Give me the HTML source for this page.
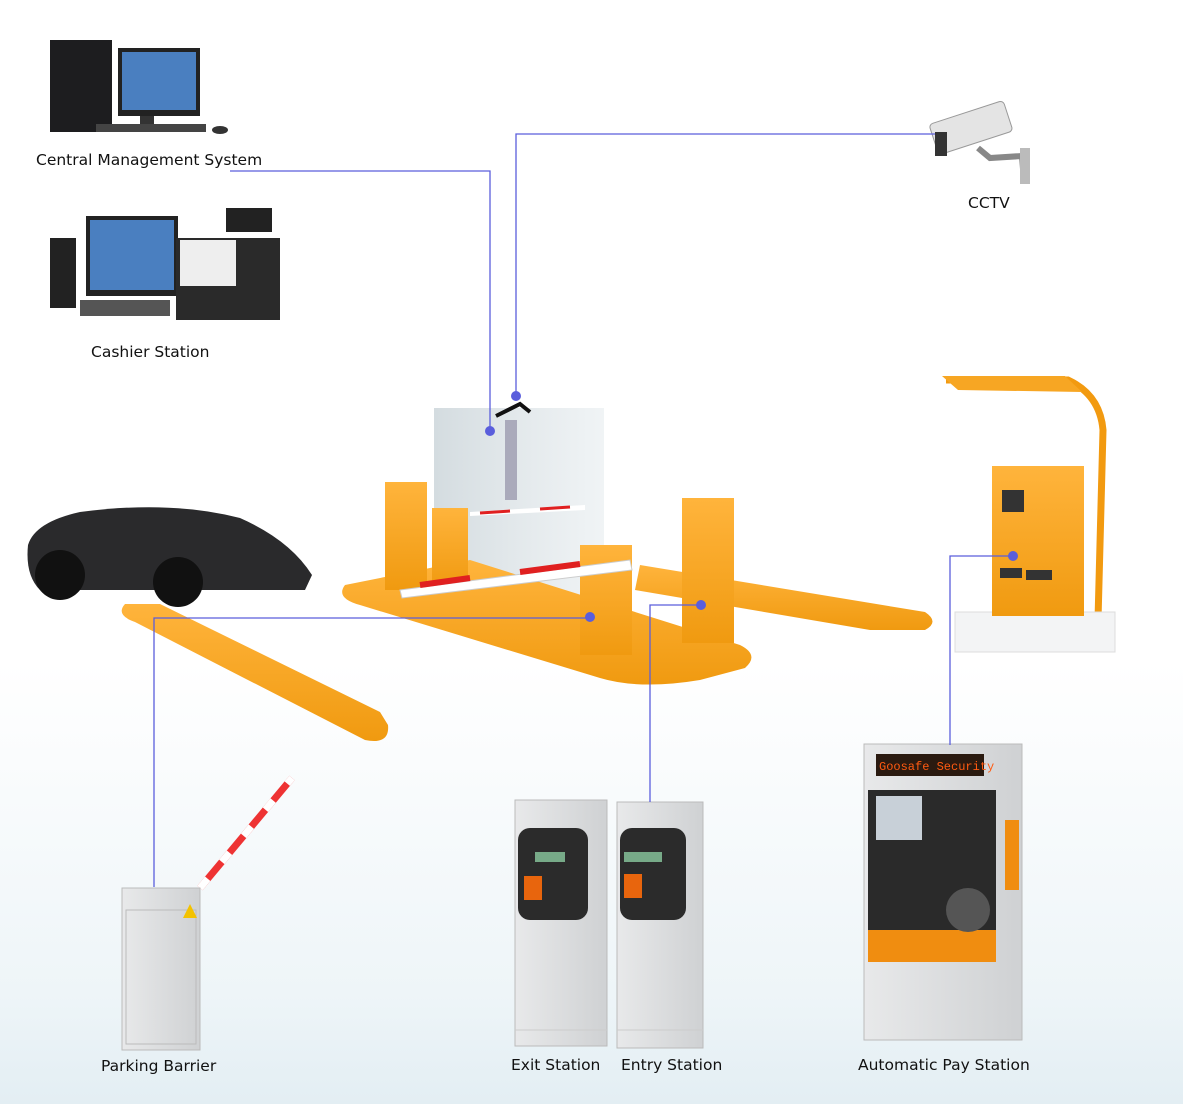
<!DOCTYPE html>
<html><head><meta charset="utf-8"><style>
html,body{margin:0;padding:0}
body{width:1183px;height:1104px;overflow:hidden;background:linear-gradient(#fff 0%,#fff 60%,#eef5f8 90%,#e3eef3 100%);font-family:"Liberation Sans",sans-serif}
svg{position:absolute;left:0;top:0}
text{font-family:"DejaVu Sans","Liberation Sans",sans-serif;font-size:15.5px;fill:#111;font-weight:500}
</style></head><body>
<svg width="1183" height="1104" viewBox="0 0 1183 1104">
<defs>
<linearGradient id="or" x1="0" y1="0" x2="0" y2="1"><stop offset="0" stop-color="#ffb43c"/><stop offset="1" stop-color="#f09a10"/></linearGradient>
<linearGradient id="gl" x1="0" y1="0" x2="1" y2="0"><stop offset="0" stop-color="#c9d3d8" stop-opacity=".8"/><stop offset="1" stop-color="#e6ecef" stop-opacity=".6"/></linearGradient>
<linearGradient id="gr" x1="0" y1="0" x2="1" y2="0"><stop offset="0" stop-color="#e8e9ea"/><stop offset="1" stop-color="#cfd1d3"/></linearGradient>
</defs>
<!-- CMS computer -->
<rect x="50" y="40" width="62" height="92" fill="#1d1d1f"/>
<rect x="118" y="48" width="82" height="68" fill="#222"/>
<rect x="122" y="52" width="74" height="58" fill="#4a7fc0"/>
<rect x="140" y="116" width="14" height="10" fill="#333"/>
<rect x="96" y="124" width="110" height="8" fill="#444"/>
<ellipse cx="220" cy="130" rx="8" ry="4" fill="#333"/>
<text x="36" y="165">Central Management System</text>
<!-- Cashier -->
<rect x="50" y="238" width="26" height="70" fill="#222"/>
<rect x="86" y="216" width="92" height="80" fill="#222"/>
<rect x="90" y="220" width="84" height="70" fill="#4a7fc0"/>
<rect x="176" y="238" width="104" height="82" fill="#2a2a2a"/>
<rect x="180" y="240" width="56" height="46" fill="#eee"/>
<rect x="226" y="208" width="46" height="24" fill="#222"/>
<rect x="80" y="300" width="90" height="16" fill="#555"/>
<text x="91" y="357">Cashier Station</text>
<!-- CCTV -->
<rect x="932" y="112" width="78" height="32" rx="4" fill="#e4e4e4" stroke="#999" transform="rotate(-18 970 128)"/>
<rect x="935" y="132" width="12" height="24" fill="#333"/>
<path d="M978 148 L990 158 L1022 156 L1024 182" stroke="#888" stroke-width="6" fill="none"/>
<rect x="1020" y="148" width="10" height="36" fill="#bbb"/>
<text x="968" y="208">CCTV</text>
<!-- booth glass -->
<rect x="434" y="408" width="170" height="190" fill="url(#gl)"/>
<rect x="505" y="420" width="12" height="80" fill="#aab"/>
<!-- orange platform -->
<path d="M345 585 Q335 598 360 605 L600 678 Q640 690 700 680 L745 668 Q760 655 740 645 L470 560 Z" fill="url(#or)"/>
<path d="M640 565 L925 612 Q940 622 925 630 L870 630 L635 590 Z" fill="url(#or)"/>
<path d="M125 604 Q115 615 135 622 L365 740 Q390 745 388 725 L380 712 L160 604 Z" fill="url(#or)"/>
<!-- posts -->
<rect x="385" y="482" width="42" height="108" fill="url(#or)"/>
<rect x="432" y="508" width="36" height="80" fill="url(#or)"/>
<rect x="580" y="545" width="52" height="110" fill="url(#or)"/>
<rect x="682" y="498" width="52" height="145" fill="url(#or)"/>
<!-- barrier arms -->
<path d="M400 590 L630 560 L632 570 L402 598 Z" fill="#fff" stroke="#ccc"/>
<path d="M420 585 L470 578 M520 572 L580 564" stroke="#e02020" stroke-width="6"/>
<path d="M470 512 L585 505 L585 510 L470 516 Z" fill="#fff"/>
<path d="M480 513 L510 511 M540 509 L570 507" stroke="#e02020" stroke-width="3"/>
<!-- car -->
<path d="M28 545 Q35 522 80 512 Q170 500 240 518 Q290 540 312 575 L305 590 L40 590 Q25 575 28 545 Z" fill="#2a2a2c"/>
<circle cx="60" cy="575" r="25" fill="#111"/><circle cx="178" cy="582" r="25" fill="#111"/>
<!-- pay station shelter -->
<path d="M946 380 L1068 380 Q1100 395 1103 430 L1098 620" stroke="#f29a10" stroke-width="7" fill="none"/>
<path d="M942 376 L1065 376 L1082 392 L958 390 Z" fill="#f7a623"/>
<rect x="955" y="612" width="160" height="40" fill="#f3f4f5" stroke="#ddd"/>
<rect x="992" y="466" width="92" height="150" fill="url(#or)"/>
<rect x="1002" y="490" width="22" height="22" fill="#333"/>
<rect x="1026" y="570" width="26" height="10" fill="#333"/><rect x="1000" y="568" width="22" height="10" fill="#333"/>
<!-- parking barrier -->
<line x1="200" y1="888" x2="292" y2="778" stroke="#e33" stroke-width="7"/>
<line x1="200" y1="888" x2="292" y2="778" stroke="#fff" stroke-width="7" stroke-dasharray="12 22"/>
<rect x="122" y="888" width="78" height="162" fill="url(#gr)" stroke="#bbb"/>
<rect x="126" y="910" width="70" height="134" fill="none" stroke="#bbb"/>
<path d="M183 918 L190 904 L197 918 Z" fill="#f3c200"/>
<text x="101" y="1071">Parking Barrier</text>
<!-- exit / entry stations -->
<rect x="515" y="800" width="92" height="246" fill="url(#gr)" stroke="#bbb"/>
<rect x="518" y="828" width="70" height="92" rx="12" fill="#2b2b2b"/>
<rect x="535" y="852" width="30" height="10" fill="#7a8"/>
<rect x="524" y="876" width="18" height="24" fill="#e8650d"/>
<rect x="617" y="802" width="86" height="246" fill="url(#gr)" stroke="#bbb"/>
<rect x="620" y="828" width="66" height="92" rx="12" fill="#2b2b2b"/>
<rect x="624" y="852" width="38" height="10" fill="#7a8"/>
<rect x="624" y="874" width="18" height="24" fill="#e8650d"/>
<line x1="515" y1="1030" x2="607" y2="1030" stroke="#ccc"/><line x1="617" y1="1030" x2="703" y2="1030" stroke="#ccc"/>
<text x="511" y="1070">Exit Station</text>
<text x="621" y="1070">Entry Station</text>
<!-- automatic pay station -->
<rect x="864" y="744" width="158" height="296" fill="url(#gr)" stroke="#bbb"/>
<rect x="876" y="754" width="108" height="22" fill="#2a1a10"/>
<text x="879" y="770" style="fill:#ff5a10;font-size:12px;font-family:'Liberation Mono',monospace;font-weight:400">Goosafe Security</text>
<rect x="868" y="790" width="128" height="170" fill="#2a2a2a"/>
<rect x="876" y="796" width="46" height="44" fill="#c8d0d8"/>
<rect x="868" y="930" width="128" height="32" fill="#f08d10"/>
<rect x="1005" y="820" width="14" height="70" fill="#f08d10"/>
<circle cx="968" cy="910" r="22" fill="#555"/>
<text x="858" y="1070">Automatic Pay Station</text>
<!-- connectors -->
<g stroke="#5a5edc" stroke-width="1.3" fill="none">
<polyline points="230,171 490,171 490,431"/>
<polyline points="935,134 516,134 516,396"/>
<polyline points="154,887 154,618 590,618"/>
<polyline points="650,802 650,605 701,605"/>
<polyline points="950,745 950,556 1013,556"/>
</g>
<g fill="#5a5edc">
<circle cx="490" cy="431" r="5"/><circle cx="516" cy="396" r="5"/><circle cx="590" cy="617" r="5"/><circle cx="701" cy="605" r="5"/><circle cx="1013" cy="556" r="5"/>
</g>
<path d="M496 416 L520 404 L530 412" stroke="#111" stroke-width="4" fill="none"/>
</svg>
</body></html>
